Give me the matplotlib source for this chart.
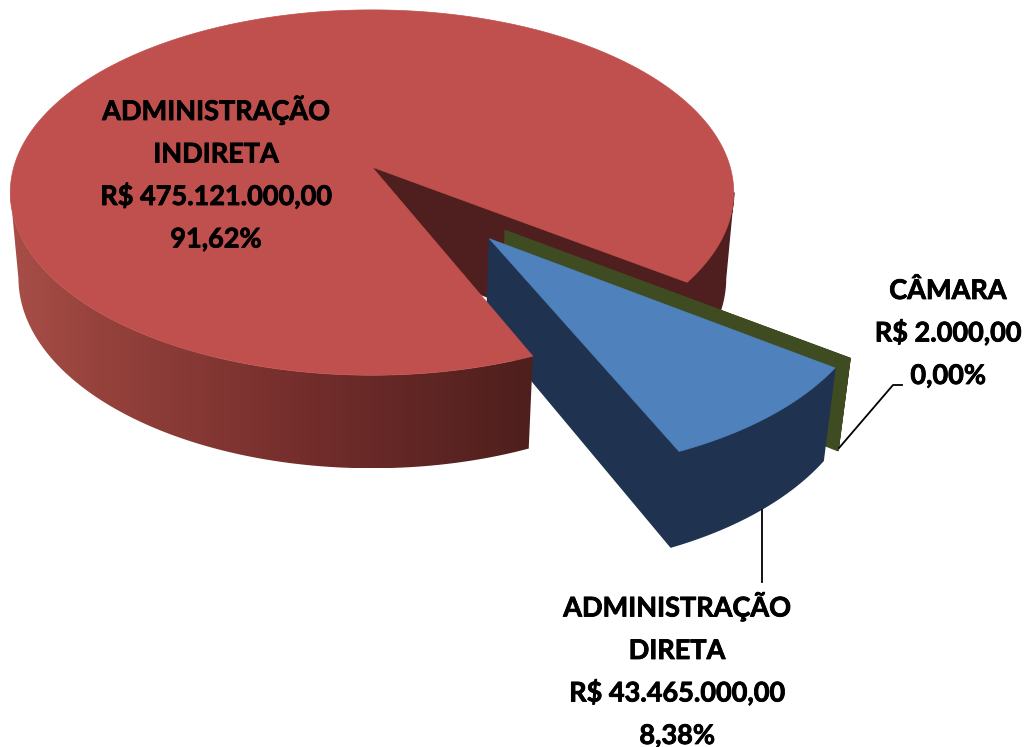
import numpy as np
import matplotlib
matplotlib.use('Agg')
import matplotlib.pyplot as plt
import matplotlib.patheffects as pe
from matplotlib.patches import Polygon

nomes = [['ADMINISTRAÇÃO', 'INDIRETA'], ['ADMINISTRAÇÃO', 'DIRETA'], ['CÂMARA']]
valores = np.array([475121000, 43465000, 2000])
valores_txt = ['R$ 475.121.000,00', 'R$ 43.465.000,00', 'R$ 2.000,00']

# camera used for the 3d look
CX, CY = 372, 167
F, D = 2217, 6.19
ELEV = np.radians(30)
ALTURA = 0.28
R_FIM = np.radians(36.2)
FOLGA = np.radians(0.6)
# where the rim of the disc turns away from the viewer
SILH = np.arcsin(np.cos(ELEV) / D)

COR_TOPO = ['#c0504d', '#4f81bd', '#3f4c22']
COR_LADO = ['#4e1f1e', '#1f3350', '#3f4c22']
GRAD_X = [10, 100, 300, 530]
GRAD_R = [168, 150, 116, 78]
GRAD_G = [78, 66, 46, 31]
GRAD_B = [72, 60, 44, 29]


def proj(x, y, z):
    w = D - y * np.cos(ELEV) - z * np.sin(ELEV)
    sx = CX + F * x / w
    sy = CY + F * (y * np.sin(ELEV) - z * np.cos(ELEV)) / w
    return np.column_stack((sx, sy))


def arco(a0, a1, ox=0, oy=0):
    t = np.linspace(a0, a1, max(2, int(abs(a1 - a0) * 90)))
    return t, ox + np.cos(t), oy + np.sin(t)


def topo(ax, a0, a1, ox, oy, cor, z):
    t, x, y = arco(a0, a1, ox, oy)
    xs = np.r_[ox, x]
    ys = np.r_[oy, y]
    ax.add_patch(Polygon(proj(xs, ys, 0 * xs), fc=cor, ec=cor, lw=0.5, zorder=z))


def parede_reta(ax, a, ox, oy, cor, z):
    xs = np.array([ox, ox + np.cos(a)])
    ys = np.array([oy, oy + np.sin(a)])
    cima = proj(xs, ys, 0 * xs)
    baixo = proj(xs, ys, 0 * xs - ALTURA)
    ax.add_patch(Polygon(np.vstack((cima, baixo[::-1])), fc=cor, ec=cor, lw=1, zorder=z))


def parede_curva(ax, a0, a1, ox, oy, cor, z, gradiente=False):
    t, x, y = arco(a0, a1, ox, oy)
    cima = proj(x, y, 0 * x)
    baixo = proj(x, y, 0 * x - ALTURA)
    contorno = np.vstack((cima, baixo[::-1]))
    if not gradiente:
        ax.add_patch(Polygon(contorno, fc=cor, ec=cor, lw=1, zorder=z))
        return
    # gradient runs left to right, clipped to the wall shape
    x0, x1 = contorno[:, 0].min(), contorno[:, 0].max()
    y0, y1 = contorno[:, 1].min(), contorno[:, 1].max()
    col = np.linspace(x0, x1, 400)
    img = np.dstack((np.interp(col, GRAD_X, GRAD_R), np.interp(col, GRAD_X, GRAD_G),
                     np.interp(col, GRAD_X, GRAD_B))) / 255
    im = ax.imshow(img, extent=(x0, x1, y1, y0), aspect='auto', zorder=z)
    p = Polygon(contorno, fc='none', ec='none', transform=ax.transData)
    ax.add_patch(p)
    im.set_clip_path(p)


fig = plt.figure(figsize=(10.29, 7.47), dpi=100)
ax = fig.add_axes([0, 0, 1, 1])

frac = valores / valores.sum()
ang = frac * 2 * np.pi

# angles of each slice, the red one goes all the way round
fim_verm = R_FIM
ini_verm = fim_verm - ang[0] + 2 * np.pi + FOLGA
ini_azul = R_FIM
fim_azul = ini_azul + ang[1] + FOLGA
fim_verde = R_FIM
ini_verde = fim_verde - ang[2]

# red back part
parede_reta(ax, fim_verm, 0, 0, COR_LADO[0], 1)
parede_curva(ax, SILH, fim_verm, 0, 0, COR_LADO[0], 1)

# green slice, pulled out a bit further up than the blue one
dir_verde = np.radians(43.7)
ox, oy = 0.49 * np.cos(dir_verde), 0.49 * np.sin(dir_verde)
parede_reta(ax, fim_verde, ox, oy, COR_LADO[2], 2)
parede_curva(ax, ini_verde, fim_verde, ox, oy, COR_LADO[2], 2)
topo(ax, ini_verde, fim_verde, ox, oy, COR_TOPO[2], 2)

# blue slice
dir_azul = np.radians(50.7)
ox, oy = 0.49 * np.cos(dir_azul), 0.49 * np.sin(dir_azul)
parede_reta(ax, fim_azul, ox, oy, COR_LADO[1], 3)
parede_curva(ax, ini_azul, fim_azul, ox, oy, COR_LADO[1], 3)
topo(ax, ini_azul, fim_azul, ox, oy, COR_TOPO[1], 4)

# red front part and top
parede_curva(ax, ini_verm, np.pi - SILH, 0, 0, COR_LADO[0], 5, gradiente=True)
topo(ax, ini_verm, fim_verm + 2 * np.pi, 0, 0, COR_TOPO[0], 6)

# leader lines
ax.plot([762, 762], [510, 582], color='black', lw=1.3, zorder=7)
ax.plot([839, 893, 902], [448, 385, 385], color='black', lw=1.3, zorder=7)

pct = [f'{p * 100:.2f}%'.replace('.', ',') for p in frac]
# x centre and baseline of the last line of each label
pos = [(216, 247.5), (677, 744), (948, 384)]
for nome, v, p, (x, y) in zip(nomes, valores_txt, pct, pos):
    linhas = nome + [v, p]
    for i, linha in enumerate(linhas):
        ax.text(x, y - 42.5 * (len(linhas) - 1 - i), linha, ha='center', va='baseline',
                family='Lato', fontweight='bold', fontsize=19.5, color='black', zorder=8,
                path_effects=[pe.withStroke(linewidth=0.6, foreground='black')])

ax.set_xlim(0, 1029)
ax.set_ylim(747, 0)
ax.axis('off')

fig.savefig('out.png', dpi=100)
